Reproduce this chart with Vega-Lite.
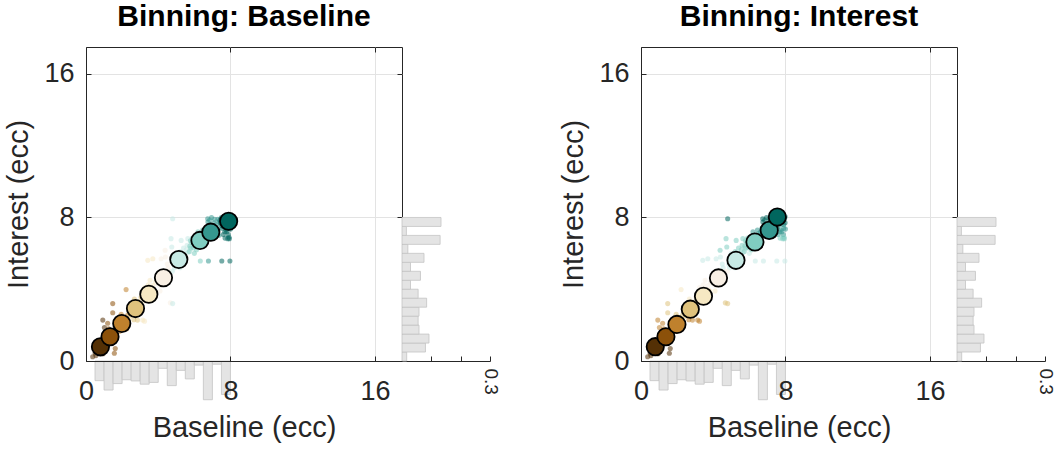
{
"$schema":"https://vega.github.io/schema/vega-lite/v6.json",
"padding":{"left":4,"top":1,"right":2,"bottom":5},
"config":{"font":"Liberation Sans","view":{"stroke":"#262626","strokeWidth":1},
"axis":{"labelFontSize":27,"titleFontSize":29,"labelColor":"#262626","titleColor":"#262626","titleFontWeight":"normal","domainColor":"#262626","tickColor":"#262626","gridColor":"#e3e3e3","labelFlush":false,"labelOverlap":false},
"title":{"fontSize":30,"fontWeight":"bold","color":"#000000"}},
"datasets":{
"dots":[
{"x":0.37,"y":0.24,"bx":1,"by":1},{"x":0.5,"y":0.45,"bx":1,"by":1},{"x":0.6,"y":0.7,"bx":1,"by":1},{"x":0.7,"y":0.55,"bx":1,"by":1},{"x":0.8,"y":0.9,"bx":1,"by":1},{"x":0.85,"y":0.65,"bx":1,"by":1},{"x":0.9,"y":1.05,"bx":1,"by":1},{"x":1.0,"y":0.8,"bx":1,"by":1},{"x":0.93,"y":2.28,"bx":1,"by":3},{"x":1.02,"y":1.87,"bx":1,"by":3},{"x":0.65,"y":1.0,"bx":1,"by":1},{"x":0.95,"y":0.4,"bx":1,"by":1},
{"x":0.45,"y":0.7,"bx":1,"by":1},{"x":0.75,"y":0.8,"bx":1,"by":1},{"x":0.55,"y":0.3,"bx":1,"by":1},{"x":1.0,"y":1.25,"bx":1,"by":2},
{"x":1.1,"y":1.3,"bx":2,"by":2},{"x":1.2,"y":1.1,"bx":2,"by":2},{"x":1.3,"y":1.5,"bx":2,"by":2},{"x":1.35,"y":1.25,"bx":2,"by":2},{"x":1.45,"y":1.6,"bx":2,"by":2},{"x":1.5,"y":1.35,"bx":2,"by":2},{"x":1.6,"y":1.75,"bx":2,"by":3},{"x":1.48,"y":3.2,"bx":2,"by":4},{"x":1.48,"y":2.69,"bx":2,"by":4},{"x":1.57,"y":0.43,"bx":2,"by":1},{"x":1.62,"y":0.7,"bx":2,"by":1},{"x":1.25,"y":1.8,"bx":2,"by":3},
{"x":1.15,"y":1.45,"bx":2,"by":2},{"x":1.4,"y":1.15,"bx":2,"by":2},{"x":1.55,"y":1.55,"bx":2,"by":2},{"x":1.2,"y":2.1,"bx":2,"by":3},
{"x":1.7,"y":1.9,"bx":3,"by":3},{"x":1.8,"y":2.1,"bx":3,"by":3},{"x":1.9,"y":1.85,"bx":3,"by":3},{"x":2.0,"y":2.2,"bx":3,"by":3},{"x":2.05,"y":2.45,"bx":3,"by":4},{"x":2.15,"y":2.0,"bx":3,"by":3},{"x":2.22,"y":3.98,"bx":3,"by":5},{"x":2.3,"y":2.55,"bx":3,"by":4},{"x":1.95,"y":2.6,"bx":3,"by":4},{"x":2.25,"y":1.8,"bx":3,"by":3},
{"x":1.75,"y":2.3,"bx":3,"by":3},{"x":1.85,"y":1.65,"bx":3,"by":2},{"x":2.1,"y":2.35,"bx":3,"by":3},{"x":2.2,"y":2.2,"bx":3,"by":3},{"x":2.32,"y":2.1,"bx":3,"by":3},
{"x":2.4,"y":2.7,"bx":4,"by":4},{"x":2.5,"y":2.95,"bx":4,"by":4},{"x":2.6,"y":2.6,"bx":4,"by":4},{"x":2.7,"y":3.1,"bx":4,"by":4},{"x":2.8,"y":2.85,"bx":4,"by":4},{"x":2.9,"y":3.3,"bx":4,"by":5},{"x":3.0,"y":3.0,"bx":4,"by":4},{"x":2.65,"y":2.3,"bx":4,"by":3},{"x":2.85,"y":2.28,"bx":4,"by":3},{"x":3.05,"y":3.55,"bx":4,"by":5},
{"x":2.45,"y":2.5,"bx":4,"by":4},{"x":2.55,"y":3.2,"bx":4,"by":4},{"x":2.75,"y":2.7,"bx":4,"by":4},{"x":2.95,"y":2.95,"bx":4,"by":4},{"x":2.68,"y":3.45,"bx":4,"by":5},{"x":3.02,"y":3.2,"bx":4,"by":4},
{"x":3.14,"y":2.28,"bx":5,"by":3},{"x":3.24,"y":2.22,"bx":5,"by":3},{"x":3.2,"y":3.6,"bx":5,"by":5},{"x":3.3,"y":3.8,"bx":5,"by":5},{"x":3.4,"y":3.5,"bx":5,"by":5},{"x":3.5,"y":4.0,"bx":5,"by":5},{"x":3.6,"y":3.75,"bx":5,"by":5},{"x":3.7,"y":4.2,"bx":5,"by":6},{"x":3.8,"y":3.9,"bx":5,"by":5},{"x":3.42,"y":5.61,"bx":5,"by":7},{"x":3.7,"y":5.7,"bx":5,"by":7},{"x":3.55,"y":4.5,"bx":5,"by":6},
{"x":3.15,"y":3.3,"bx":5,"by":5},{"x":3.25,"y":4.1,"bx":5,"by":6},{"x":3.35,"y":3.65,"bx":5,"by":5},{"x":3.45,"y":4.25,"bx":5,"by":6},{"x":3.65,"y":3.4,"bx":5,"by":5},{"x":3.75,"y":3.95,"bx":5,"by":5},{"x":3.85,"y":4.4,"bx":5,"by":6},
{"x":3.95,"y":4.3,"bx":6,"by":6},{"x":4.05,"y":4.6,"bx":6,"by":6},{"x":4.16,"y":5.7,"bx":6,"by":7},{"x":4.2,"y":4.4,"bx":6,"by":6},{"x":4.3,"y":4.8,"bx":6,"by":6},{"x":4.38,"y":6.17,"bx":6,"by":8},{"x":4.45,"y":4.9,"bx":6,"by":6},{"x":4.55,"y":5.2,"bx":6,"by":7},{"x":4.6,"y":4.5,"bx":6,"by":6},{"x":4.67,"y":3.24,"bx":6,"by":4},{"x":4.1,"y":3.9,"bx":6,"by":5},
{"x":3.98,"y":4.7,"bx":6,"by":6},{"x":4.12,"y":4.2,"bx":6,"by":6},{"x":4.25,"y":5.0,"bx":6,"by":6},{"x":4.35,"y":4.65,"bx":6,"by":6},{"x":4.5,"y":5.4,"bx":6,"by":7},{"x":4.62,"y":5.0,"bx":6,"by":6},{"x":4.4,"y":5.8,"bx":6,"by":7},
{"x":4.71,"y":6.82,"bx":7,"by":8},{"x":4.75,"y":6.35,"bx":7,"by":8},{"x":4.8,"y":7.93,"bx":7,"by":10},{"x":4.8,"y":3.2,"bx":7,"by":4},{"x":4.85,"y":5.4,"bx":7,"by":7},{"x":4.95,"y":5.7,"bx":7,"by":7},{"x":5.05,"y":5.5,"bx":7,"by":7},{"x":5.15,"y":5.9,"bx":7,"by":7},{"x":5.27,"y":6.72,"bx":7,"by":8},{"x":5.3,"y":5.6,"bx":7,"by":7},{"x":5.45,"y":6.0,"bx":7,"by":7},{"x":5.55,"y":6.2,"bx":7,"by":8},{"x":5.64,"y":6.82,"bx":7,"by":8},{"x":5.2,"y":5.2,"bx":7,"by":7},
{"x":4.9,"y":5.2,"bx":7,"by":7},{"x":5.0,"y":6.0,"bx":7,"by":7},{"x":5.1,"y":5.35,"bx":7,"by":7},{"x":5.22,"y":6.1,"bx":7,"by":8},{"x":5.35,"y":5.85,"bx":7,"by":7},{"x":5.5,"y":5.75,"bx":7,"by":7},{"x":5.6,"y":6.45,"bx":7,"by":8},{"x":5.4,"y":6.3,"bx":7,"by":8},{"x":4.78,"y":5.0,"bx":7,"by":6},{"x":5.65,"y":6.05,"bx":7,"by":7},
{"x":5.75,"y":6.4,"bx":8,"by":8},{"x":5.85,"y":6.6,"bx":8,"by":8},{"x":5.95,"y":6.3,"bx":8,"by":8},{"x":6.05,"y":6.8,"bx":8,"by":8},{"x":6.15,"y":6.55,"bx":8,"by":8},{"x":6.33,"y":5.57,"bx":8,"by":7},{"x":6.3,"y":7.0,"bx":8,"by":9},{"x":6.4,"y":6.75,"bx":8,"by":8},{"x":6.5,"y":7.1,"bx":8,"by":9},{"x":6.0,"y":6.0,"bx":8,"by":7},{"x":6.2,"y":7.2,"bx":8,"by":9},
{"x":5.72,"y":6.1,"bx":8,"by":8},{"x":5.8,"y":6.3,"bx":8,"by":8},{"x":5.9,"y":6.85,"bx":8,"by":8},{"x":6.02,"y":6.5,"bx":8,"by":8},{"x":6.1,"y":6.95,"bx":8,"by":9},{"x":6.22,"y":6.4,"bx":8,"by":8},{"x":6.35,"y":6.6,"bx":8,"by":8},{"x":6.45,"y":7.3,"bx":8,"by":9},{"x":6.55,"y":6.9,"bx":8,"by":8},{"x":6.25,"y":6.85,"bx":8,"by":8},{"x":5.78,"y":6.7,"bx":8,"by":8},{"x":6.12,"y":6.2,"bx":8,"by":8},
{"x":6.65,"y":7.0,"bx":9,"by":9},{"x":6.74,"y":7.93,"bx":9,"by":10},{"x":6.78,"y":5.57,"bx":9,"by":7},{"x":6.8,"y":7.3,"bx":9,"by":9},{"x":6.9,"y":7.1,"bx":9,"by":9},{"x":7.0,"y":7.5,"bx":9,"by":9},{"x":7.05,"y":6.95,"bx":9,"by":9},{"x":7.1,"y":7.7,"bx":9,"by":10},{"x":7.2,"y":7.4,"bx":9,"by":9},{"x":7.3,"y":7.9,"bx":9,"by":10},{"x":6.95,"y":8.0,"bx":9,"by":10},{"x":7.25,"y":7.15,"bx":9,"by":9},{"x":6.85,"y":7.85,"bx":9,"by":10},
{"x":6.7,"y":7.4,"bx":9,"by":9},{"x":6.75,"y":7.75,"bx":9,"by":10},{"x":6.88,"y":7.6,"bx":9,"by":9},{"x":6.98,"y":7.25,"bx":9,"by":9},{"x":7.08,"y":7.45,"bx":9,"by":9},{"x":7.15,"y":7.05,"bx":9,"by":9},{"x":7.22,"y":7.6,"bx":9,"by":9},{"x":7.32,"y":7.3,"bx":9,"by":9},{"x":7.38,"y":7.75,"bx":9,"by":10},{"x":6.62,"y":7.2,"bx":9,"by":9},{"x":7.12,"y":7.9,"bx":9,"by":10},{"x":7.35,"y":7.0,"bx":9,"by":9},
{"x":7.45,"y":7.7,"bx":10,"by":10},{"x":7.52,"y":5.57,"bx":10,"by":7},{"x":7.55,"y":7.95,"bx":10,"by":10},{"x":7.6,"y":7.5,"bx":10,"by":9},{"x":7.7,"y":7.85,"bx":10,"by":10},{"x":7.75,"y":7.3,"bx":10,"by":9},{"x":7.8,"y":8.0,"bx":10,"by":10},{"x":7.85,"y":6.82,"bx":10,"by":8},{"x":7.9,"y":7.6,"bx":10,"by":9},{"x":7.94,"y":6.81,"bx":10,"by":8},{"x":7.97,"y":5.57,"bx":10,"by":7},{"x":7.95,"y":7.95,"bx":10,"by":10},{"x":7.6,"y":7.05,"bx":10,"by":9},{"x":7.8,"y":7.2,"bx":10,"by":9},{"x":7.5,"y":8.0,"bx":10,"by":10},{"x":7.9,"y":7.4,"bx":10,"by":9},
{"x":7.42,"y":7.85,"bx":10,"by":10},{"x":7.65,"y":7.75,"bx":10,"by":10},{"x":7.72,"y":8.05,"bx":10,"by":10},{"x":7.85,"y":7.9,"bx":10,"by":10},{"x":7.98,"y":7.7,"bx":10,"by":10},{"x":8.0,"y":7.35,"bx":10,"by":9},{"x":7.88,"y":7.05,"bx":10,"by":9},{"x":7.55,"y":7.4,"bx":10,"by":9},{"x":7.68,"y":7.2,"bx":10,"by":9},{"x":7.92,"y":6.9,"bx":10,"by":8},{"x":7.48,"y":7.55,"bx":10,"by":9},{"x":7.82,"y":7.62,"bx":10,"by":9},{"x":7.62,"y":7.9,"bx":10,"by":10},{"x":7.98,"y":8.05,"bx":10,"by":10},{"x":7.7,"y":6.85,"bx":10,"by":8}
],
"circL":[{"x":0.8,"y":0.79,"b":1},{"x":1.33,"y":1.35,"b":2},{"x":1.98,"y":2.09,"b":3},{"x":2.74,"y":2.92,"b":4},{"x":3.48,"y":3.72,"b":5},{"x":4.29,"y":4.64,"b":6},{"x":5.14,"y":5.66,"b":7},{"x":6.31,"y":6.72,"b":8},{"x":6.91,"y":7.18,"b":9},{"x":7.9,"y":7.79,"b":10}],
"circR":[{"x":0.79,"y":0.8,"b":1},{"x":1.38,"y":1.35,"b":2},{"x":1.99,"y":2.04,"b":3},{"x":2.73,"y":2.89,"b":4},{"x":3.46,"y":3.61,"b":5},{"x":4.29,"y":4.63,"b":6},{"x":5.26,"y":5.61,"b":7},{"x":6.31,"y":6.63,"b":8},{"x":7.1,"y":7.28,"b":9},{"x":7.55,"y":8.02,"b":10}],
"histX":[{"lo":0.5,"hi":1,"p":0.067},{"lo":1,"hi":1.5,"p":0.099},{"lo":1.5,"hi":2,"p":0.077},{"lo":2,"hi":2.5,"p":0.064},{"lo":2.5,"hi":3,"p":0.068},{"lo":3,"hi":3.5,"p":0.079},{"lo":3.5,"hi":4,"p":0.073},{"lo":4,"hi":4.5,"p":0.025},{"lo":4.5,"hi":5,"p":0.084},{"lo":5,"hi":5.5,"p":0.032},{"lo":5.5,"hi":6,"p":0.061},{"lo":6,"hi":6.5,"p":0.014},{"lo":6.5,"hi":7,"p":0.132},{"lo":7,"hi":7.5,"p":0.011},{"lo":7.5,"hi":8,"p":0.114}],
"histY":[{"lo":0,"hi":0.5,"p":0.016},{"lo":0.5,"hi":1,"p":0.08},{"lo":1,"hi":1.5,"p":0.092},{"lo":1.5,"hi":2,"p":0.058},{"lo":2,"hi":2.5,"p":0.055},{"lo":2.5,"hi":3,"p":0.058},{"lo":3,"hi":3.5,"p":0.084},{"lo":3.5,"hi":4,"p":0.055},{"lo":4,"hi":4.5,"p":0.029},{"lo":4.5,"hi":5,"p":0.063},{"lo":5,"hi":5.5,"p":0.029},{"lo":5.5,"hi":6,"p":0.075},{"lo":6,"hi":6.5,"p":0.02},{"lo":6.5,"hi":7,"p":0.13},{"lo":7,"hi":7.5,"p":0.015},{"lo":7.5,"hi":8,"p":0.133}]
},
"hconcat":[
{"width":316,"height":314,
"title":{"text":"Binning: Baseline","offset":15},
"resolve":{"scale":{"x":"independent","y":"independent"}},
"layer":[
{"data":{"name":"dots"},"mark":{"type":"circle","size":26,"opacity":0.55},
"encoding":{"x":{"field":"x","type":"quantitative","scale":{"domain":[0,17.5],"nice":false,"zero":false},"axis":{"values":[0,8,16],"title":"Baseline (ecc)","grid":false,"tickSize":-5,"labelPadding":22,"titlePadding":9,"zindex":1}},
"y":{"field":"y","type":"quantitative","scale":{"domain":[0,17.5],"nice":false,"zero":false},"axis":{"values":[0,8,16],"title":"Interest (ecc)","grid":false,"tickSize":-5,"labelPadding":17,"titlePadding":10,"zindex":1}},
"color":{"field":"bx","type":"ordinal","scale":{"domain":[1,2,3,4,5,6,7,8,9,10],"range":["#543005","#8c510a","#bf812d","#dfc27d","#f6e8c3","#f8efe4","#c7eae5","#80cdc1","#35978f","#01665e"]},"legend":null}}},
{"data":{"name":"histX"},"mark":{"type":"bar","fill":"#e4e4e4","stroke":"#c4c4c4","strokeWidth":0.8},
"encoding":{"x":{"field":"lo","type":"quantitative","scale":{"domain":[0,17.5],"nice":false,"zero":false},"axis":null},"x2":{"field":"hi"},
"y":{"field":"p","type":"quantitative","scale":{"domain":[0,0.3],"range":[314,402],"nice":false,"zero":false},"axis":null},"y2":{"datum":0}}},
{"data":{"name":"histY"},"mark":{"type":"bar","fill":"#e4e4e4","stroke":"#c4c4c4","strokeWidth":0.8},
"encoding":{"y":{"field":"lo","type":"quantitative","scale":{"domain":[0,17.5],"nice":false,"zero":false},"axis":null},"y2":{"field":"hi"},
"x":{"field":"p","type":"quantitative","scale":{"domain":[0,0.3],"range":[316,404],"nice":false,"zero":false},"axis":{"orient":"bottom","values":[0,0.1,0.2,0.3],"grid":false,"title":null,"labelExpr":"datum.value > 0.25 ? '0.3' : ''","labelAngle":90,"labelFontSize":19,"tickSize":-5,"labelPadding":12}},"x2":{"datum":0}}},
{"mark":{"type":"rule","color":"#e5677f","strokeWidth":1.3},"encoding":{"x":{"datum":4.1,"type":"quantitative","scale":{"domain":[0,17.5],"nice":false,"zero":false},"axis":{"values":[0,8,16],"grid":true,"labels":false,"ticks":false,"domain":false,"title":null}}}},
{"mark":{"type":"rule","color":"#e5677f","strokeWidth":1.3},"encoding":{"y":{"datum":4.22,"type":"quantitative","scale":{"domain":[0,17.5],"nice":false,"zero":false},"axis":{"values":[0,8,16],"grid":true,"labels":false,"ticks":false,"domain":false,"title":null}}}},
{"data":{"name":"circL"},"mark":{"type":"point","filled":true,"size":300,"stroke":"#000000","strokeWidth":1.8,"opacity":1},
"encoding":{"x":{"field":"x","type":"quantitative","scale":{"domain":[0,17.5],"nice":false,"zero":false},"axis":{"orient":"top","values":[0,8,16],"labels":false,"domain":false,"grid":false,"title":null,"tickSize":-5}},
"y":{"field":"y","type":"quantitative","scale":{"domain":[0,17.5],"nice":false,"zero":false},"axis":{"orient":"right","values":[0,8,16],"labels":false,"domain":false,"grid":false,"title":null,"tickSize":-5}},
"fill":{"field":"b","type":"ordinal","scale":{"domain":[1,2,3,4,5,6,7,8,9,10],"range":["#543005","#8c510a","#bf812d","#dfc27d","#f6e8c3","#f8efe4","#c7eae5","#80cdc1","#35978f","#01665e"]},"legend":null}}},
{"mark":{"type":"rule","color":"#e0143c","strokeWidth":2,"strokeDash":[10,6]},"encoding":{"x":{"datum":0,"type":"quantitative","scale":{"domain":[0,17.5],"nice":false,"zero":false},"axis":null},"x2":{"datum":17.5},"y":{"datum":0,"type":"quantitative","scale":{"domain":[0,17.5],"nice":false,"zero":false},"axis":null},"y2":{"datum":17.5}}}
]},
{"width":316,"height":314,
"title":{"text":"Binning: Interest","offset":15},
"resolve":{"scale":{"x":"independent","y":"independent"}},
"layer":[
{"data":{"name":"dots"},"mark":{"type":"circle","size":26,"opacity":0.55},
"encoding":{"x":{"field":"x","type":"quantitative","scale":{"domain":[0,17.5],"nice":false,"zero":false},"axis":{"values":[0,8,16],"title":"Baseline (ecc)","grid":false,"tickSize":-5,"labelPadding":22,"titlePadding":9,"zindex":1}},
"y":{"field":"y","type":"quantitative","scale":{"domain":[0,17.5],"nice":false,"zero":false},"axis":{"values":[0,8,16],"title":"Interest (ecc)","grid":false,"tickSize":-5,"labelPadding":17,"titlePadding":10,"zindex":1}},
"color":{"field":"by","type":"ordinal","scale":{"domain":[1,2,3,4,5,6,7,8,9,10],"range":["#543005","#8c510a","#bf812d","#dfc27d","#f6e8c3","#f8efe4","#c7eae5","#80cdc1","#35978f","#01665e"]},"legend":null}}},
{"data":{"name":"histX"},"mark":{"type":"bar","fill":"#e4e4e4","stroke":"#c4c4c4","strokeWidth":0.8},
"encoding":{"x":{"field":"lo","type":"quantitative","scale":{"domain":[0,17.5],"nice":false,"zero":false},"axis":null},"x2":{"field":"hi"},
"y":{"field":"p","type":"quantitative","scale":{"domain":[0,0.3],"range":[314,402],"nice":false,"zero":false},"axis":null},"y2":{"datum":0}}},
{"data":{"name":"histY"},"mark":{"type":"bar","fill":"#e4e4e4","stroke":"#c4c4c4","strokeWidth":0.8},
"encoding":{"y":{"field":"lo","type":"quantitative","scale":{"domain":[0,17.5],"nice":false,"zero":false},"axis":null},"y2":{"field":"hi"},
"x":{"field":"p","type":"quantitative","scale":{"domain":[0,0.3],"range":[316,404],"nice":false,"zero":false},"axis":{"orient":"bottom","values":[0,0.1,0.2,0.3],"grid":false,"title":null,"labelExpr":"datum.value > 0.25 ? '0.3' : ''","labelAngle":90,"labelFontSize":19,"tickSize":-5,"labelPadding":12}},"x2":{"datum":0}}},
{"mark":{"type":"rule","color":"#e5677f","strokeWidth":1.3},"encoding":{"x":{"datum":4.12,"type":"quantitative","scale":{"domain":[0,17.5],"nice":false,"zero":false},"axis":{"values":[0,8,16],"grid":true,"labels":false,"ticks":false,"domain":false,"title":null}}}},
{"mark":{"type":"rule","color":"#e5677f","strokeWidth":1.3},"encoding":{"y":{"datum":4.22,"type":"quantitative","scale":{"domain":[0,17.5],"nice":false,"zero":false},"axis":{"values":[0,8,16],"grid":true,"labels":false,"ticks":false,"domain":false,"title":null}}}},
{"data":{"name":"circR"},"mark":{"type":"point","filled":true,"size":300,"stroke":"#000000","strokeWidth":1.8,"opacity":1},
"encoding":{"x":{"field":"x","type":"quantitative","scale":{"domain":[0,17.5],"nice":false,"zero":false},"axis":{"orient":"top","values":[0,8,16],"labels":false,"domain":false,"grid":false,"title":null,"tickSize":-5}},
"y":{"field":"y","type":"quantitative","scale":{"domain":[0,17.5],"nice":false,"zero":false},"axis":{"orient":"right","values":[0,8,16],"labels":false,"domain":false,"grid":false,"title":null,"tickSize":-5}},
"fill":{"field":"b","type":"ordinal","scale":{"domain":[1,2,3,4,5,6,7,8,9,10],"range":["#543005","#8c510a","#bf812d","#dfc27d","#f6e8c3","#f8efe4","#c7eae5","#80cdc1","#35978f","#01665e"]},"legend":null}}},
{"mark":{"type":"rule","color":"#e0143c","strokeWidth":2,"strokeDash":[10,6]},"encoding":{"x":{"datum":0,"type":"quantitative","scale":{"domain":[0,17.5],"nice":false,"zero":false},"axis":null},"x2":{"datum":17.5},"y":{"datum":0,"type":"quantitative","scale":{"domain":[0,17.5],"nice":false,"zero":false},"axis":null},"y2":{"datum":17.5}}}
]}
],
"spacing":59
}
